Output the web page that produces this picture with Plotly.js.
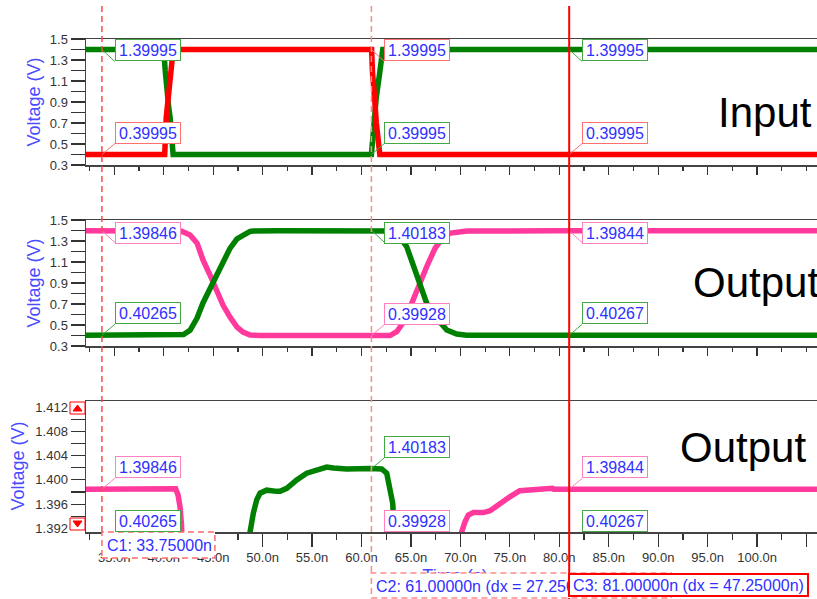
<!DOCTYPE html>
<html><head><meta charset="utf-8">
<script src="https://cdn.plot.ly/plotly-3.0.1.min.js"></script>
<style>html,body{margin:0;padding:0;background:#fff}#chart{width:817px;height:599px}</style>
</head><body><div id="chart"></div>
<script>
// ---------- DATA ----------
// Input signals (ns, V)
const inRedT   = [32.0, 40.10, 40.25, 40.45, 40.60, 40.75, 40.85, 40.95, 61.02, 61.10, 61.20, 61.35, 61.50, 61.70, 61.85, 106.5];
const inRedV   = [0.39995, 0.39995, 0.75, 0.90, 1.05, 1.20, 1.30, 1.39995, 1.39995, 1.20, 1.00, 0.90, 0.70, 0.50, 0.39995, 0.39995];
const inGreenT = [32.0, 40.00, 40.15, 40.30, 40.50, 40.65, 40.80, 40.95, 61.00, 61.20, 61.50, 61.80, 62.15, 106.5];
const inGreenV = [1.39995, 1.39995, 1.20, 1.00, 0.85, 0.75, 0.60, 0.39995, 0.39995, 0.70, 0.95, 1.15, 1.39995, 1.39995];
// Output signals (ns, V)
const outPinkT = [32.0, 40.5, 40.9, 41.2, 41.45, 41.65, 41.8, 42.0, 42.66, 43.37, 43.97, 44.68, 45.39, 45.99, 46.70, 47.41, 48.02, 48.73, 49.74, 62.88, 63.56, 64.40, 65.08, 65.74, 66.59, 67.43, 68.27, 69.0, 69.6, 70.13, 70.47, 70.8, 71.31, 72.32, 73.0, 74.0, 75.0, 76.0, 77.37, 78.73, 79.3, 79.45, 106.5];
const outPinkV = [1.39846, 1.39846, 1.39865, 1.39855, 1.3975, 1.3955, 1.3925, 1.385, 1.357, 1.28, 1.12, 0.976, 0.814, 0.69, 0.576, 0.48, 0.433, 0.405, 0.39928, 0.39928, 0.436, 0.548, 0.707, 0.865, 1.055, 1.23, 1.34, 1.375, 1.386, 1.3914, 1.3931, 1.3942, 1.3946, 1.3946, 1.3949, 1.3961, 1.3972, 1.3982, 1.39846, 1.3986, 1.3986, 1.39844, 1.39844];
const outGreenT = [32.0, 41.7, 42.0, 42.66, 43.37, 43.97, 44.68, 45.39, 45.99, 46.70, 47.41, 48.02, 48.5, 48.73, 49.06, 49.4, 49.74, 50.41, 51.43, 51.76, 52.44, 53.45, 54.46, 55.47, 56.48, 57.15, 58.5, 60.86, 62.04, 62.55, 62.88, 63.16, 63.29, 63.6, 64.0, 64.57, 65.24, 65.91, 66.59, 67.6, 68.62, 69.63, 70.64, 106.5];
const outGreenV = [0.40265, 0.40265, 0.41, 0.45, 0.566, 0.71, 0.85, 0.995, 1.12, 1.23, 1.32, 1.36, 1.38, 1.3914, 1.3945, 1.3967, 1.3978, 1.3983, 1.3981, 1.3981, 1.3986, 1.400, 1.4011, 1.4017, 1.4021, 1.40195, 1.4018, 1.40185, 1.4018, 1.4011, 1.3989, 1.3961, 1.3917, 1.365, 1.32, 1.246, 1.055, 0.865, 0.707, 0.564, 0.452, 0.414, 0.403, 0.40267];

// Cursors
const cursorNames = ['C1', 'C2', 'C3'];
const cursorT = [33.75, 61.0, 81.0];
const cursorDx = [null, 27.25, 47.25];
const inRedAtC = [0.39995, 1.39995, 0.39995];
const inGreenAtC = [1.39995, 0.39995, 1.39995];
const outPinkAtC = [1.39846, 0.39928, 1.39844];
const outGreenAtC = [0.40265, 1.40183, 0.40267];

// Panel labels and ticks
const panelNames = ['Input', 'Output', 'Output'];
const yTitle = 'Voltage (V)';
const xTitle = 'Time (s)';
const yTickVals = [0.3, 0.5, 0.7, 0.9, 1.1, 1.3, 1.5];
const yTickText = ['0.3', '0.5', '0.7', '0.9', '1.1', '1.3', '1.5'];
const y3TickVals = [1.392, 1.396, 1.400, 1.404, 1.408, 1.412];
const y3TickText = ['1.392', '1.396', '1.400', '1.404', '1.408', '1.412'];
const xTickVals = [35, 40, 45, 50, 55, 60, 65, 70, 75, 80, 85, 90, 95, 100, 105];
const xTickText = ['35.0n', '40.0n', '45.0n', '50.0n', '55.0n', '60.0n', '65.0n', '70.0n', '75.0n', '80.0n', '85.0n', '90.0n', '95.0n', '100.0n', ''];

// ---------- STYLE ----------
const W = 817, H = 599;
const px = x => x / W;
const py = y => 1 - y / H;
const FONT = 'Liberation Sans, Arial, sans-serif';
const RED = '#ff0000', GREEN = '#008000', PINK = '#ff3a9c';
const RED_L = '#ff7070', GREEN_L = '#44a844', PINK_L = '#ff80c0';
const BLUE = '#3030ff', BLUE_T = '#4a4aff';
const XR = [32.14, 106.06];

function line(x, y, xa, ya, color) {
  return {type: 'scatter', mode: 'lines', x: x, y: y, xaxis: xa, yaxis: ya,
          line: {color: color, width: 5.5}, hoverinfo: 'skip'};
}
const data = [
  line(inGreenT, inGreenV, 'x', 'y', GREEN),
  line(inRedT, inRedV, 'x', 'y', RED),
  line(outPinkT, outPinkV, 'x2', 'y2', PINK),
  line(outGreenT, outGreenV, 'x2', 'y2', GREEN),
  line(outPinkT, outPinkV, 'x3', 'y3', PINK),
  line(outGreenT, outGreenV, 'x3', 'y3', GREEN)
];

function xaxis(anchor, labels) {
  return {
    anchor: anchor, range: XR, domain: [px(86), 1], showline: true, mirror: true,
    linecolor: '#444', linewidth: 1.5, showgrid: false, zeroline: false,
    tickmode: 'array', tickvals: xTickVals, ticktext: xTickText,
    ticks: 'outside', ticklen: labels ? 13 : 8, tickwidth: 1.2, tickcolor: '#333',
    minor: {tickmode: 'linear', tick0: 0, dtick: 2.5, ticks: 'outside', ticklen: labels ? 6 : 4, tickwidth: 1.2, tickcolor: '#333'},
    showticklabels: labels, tickfont: {family: FONT, size: 13, color: '#333'}, fixedrange: true
  };
}
function yaxis(anchor, dom, range, tv, tt, t0, mdt) {
  return {
    anchor: anchor, domain: dom, range: range, showline: true, linecolor: '#444', linewidth: 1.5,
    showgrid: false, zeroline: false, tickmode: 'array', tickvals: tv, ticktext: tt,
    ticks: 'outside', ticklen: 14, tickwidth: 1.2, tickcolor: '#333',
    minor: {tickmode: 'linear', tick0: t0, dtick: mdt, ticks: 'outside', ticklen: 14, tickwidth: 1.2, tickcolor: '#333'},
    tickfont: {family: FONT, size: 13, color: '#333'}, fixedrange: true
  };
}

const shapes = [];
const annotations = [];

// y-axis titles and big panel labels
const panelCenters = [[33.5, 102], [33.5, 283], [17, 466.5]];
const bigLabelPos = [[716, 112.5], [691, 282.5], [678, 447.5]];
for (let p = 0; p < 3; p++) {
  annotations.push({xref: 'paper', yref: 'paper', x: px(panelCenters[p][0]), y: py(panelCenters[p][1]), text: yTitle,
    textangle: -90, showarrow: false, xanchor: 'center', yanchor: 'middle',
    font: {family: FONT, size: 18, color: BLUE_T}});
  annotations.push({xref: 'paper', yref: 'paper', x: px(bigLabelPos[p][0]), y: py(bigLabelPos[p][1]),
    text: panelNames[p], showarrow: false, xanchor: 'left', yanchor: 'middle',
    font: {family: FONT, size: 42, color: '#000'}});
}

// value labels
function label(xr, x, yref, y, yanchor, yshift, text, border) {
  annotations.push({xref: xr, x: x, xanchor: 'left', xshift: 13, yref: yref, y: y, yanchor: yanchor,
    yshift: yshift, text: text, showarrow: false, bgcolor: '#ffffff', bordercolor: border,
    borderwidth: 1, borderpad: 1, width: 62, height: 18, align: 'center',
    font: {family: FONT, size: 16, color: BLUE}});
}
function leader(xr, yr, x, y, dy, color) {
  shapes.push({type: 'line', xref: xr, yref: yr, xsizemode: 'pixel', ysizemode: 'pixel',
    xanchor: x, yanchor: y, x0: 0, y0: 0, x1: 13, y1: dy, line: {color: color, width: 1}});
}
const panelSeries = [
  [[inRedAtC, RED_L], [inGreenAtC, GREEN_L]],
  [[outPinkAtC, PINK_L], [outGreenAtC, GREEN_L]],
  [[outPinkAtC, PINK_L], [outGreenAtC, GREEN_L]]
];
const panelTopPx = [39, 222];
for (let p = 0; p < 3; p++) {
  const xr = p === 0 ? 'x' : 'x' + (p + 1);
  const yr = p === 0 ? 'y' : 'y' + (p + 1);
  for (let i = 0; i < 3; i++) {
    const s = panelSeries[p].map(d => ({v: d[0][i], c: d[1]})).sort((a, b) => b.v - a.v);
    const hi = s[0], lo = s[1];
    const t = cursorT[i];
    if (p < 2) {
      label(xr, t, 'paper', py(panelTopPx[p]), 'top', 0, hi.v.toFixed(5), hi.c);
      leader(xr, yr, t, hi.v, -12, hi.c);
      label(xr, t, yr, lo.v, 'bottom', 11, lo.v.toFixed(5), lo.c);
      leader(xr, yr, t, lo.v, 11, lo.c);
    } else {
      label(xr, t, yr, hi.v, 'bottom', 11, hi.v.toFixed(5), hi.c);
      leader(xr, yr, t, hi.v, 11, hi.c);
      label(xr, t, 'paper', py(531.5), 'bottom', 0, lo.v.toFixed(5), lo.c);
    }
  }
}

// "Time (s)" title as shape label (so the cursor box can cover it)
shapes.push({type: 'rect', xref: 'paper', yref: 'paper', x0: px(415), x1: px(495), y0: py(584), y1: py(564),
  line: {width: 0}, fillcolor: 'rgba(0,0,0,0)',
  label: {text: xTitle, textposition: 'middle center', font: {family: FONT, size: 18, color: BLUE_T}}});

// cursor lines
const cursorLine = [
  {color: '#ff4a4a', width: 1.5, dash: '6px,4px', bottom: 532},
  {color: '#ff8a8a', width: 1.5, dash: '6px,4px', bottom: 573},
  {color: '#ff0000', width: 2, dash: 'solid', bottom: 599}
];
for (let i = 0; i < 3; i++) {
  shapes.push({type: 'line', xref: 'x3', yref: 'paper', x0: cursorT[i], x1: cursorT[i],
    y0: py(6), y1: py(cursorLine[i].bottom),
    line: {color: cursorLine[i].color, width: cursorLine[i].width, dash: cursorLine[i].dash}});
}
// cursor boxes C1, C2 (dashed)
shapes.push({type: 'rect', xref: 'x3', yref: 'paper', xsizemode: 'pixel', xanchor: cursorT[0], x0: 0, x1: 113,
  y0: py(558), y1: py(532), fillcolor: '#ffffff', line: {color: '#ff6a6a', width: 1.5, dash: '6px,4px'}});
shapes.push({type: 'rect', xref: 'x3', yref: 'paper', xsizemode: 'pixel', xanchor: cursorT[1], x0: 0, x1: 300,
  y0: py(598), y1: py(573), fillcolor: '#ffffff', line: {color: '#ff8a8a', width: 1.5, dash: '6px,4px'}});

function ctext(i) {
  let s = cursorNames[i] + ': ' + cursorT[i].toFixed(5) + 'n';
  if (cursorDx[i] !== null) s += ' (dx = ' + cursorDx[i].toFixed(5) + 'n)';
  return s;
}
annotations.push({xref: 'x3', x: cursorT[0], xshift: 3, xanchor: 'left', yref: 'paper', y: py(545), yanchor: 'middle',
  text: ctext(0), showarrow: false, font: {family: FONT, size: 16, color: BLUE}});
annotations.push({xref: 'x3', x: cursorT[1], xshift: 3, xanchor: 'left', yref: 'paper', y: py(586), yanchor: 'middle',
  text: ctext(1), showarrow: false, font: {family: FONT, size: 16, color: BLUE}});
annotations.push({xref: 'x3', x: cursorT[2], xshift: -1, xanchor: 'left', yref: 'paper', y: py(573), yanchor: 'top',
  text: ctext(2), showarrow: false, bgcolor: '#ffffff', bordercolor: '#ff0000', borderwidth: 2, borderpad: 1,
  width: 235, height: 18, font: {family: FONT, size: 16, color: BLUE}});

// scroll buttons on panel 3 y-axis
function button(top, up) {
  shapes.push({type: 'rect', xref: 'paper', yref: 'paper', x0: px(70), x1: px(85), y0: py(top + 12), y1: py(top),
    fillcolor: '#ffffff', line: {color: '#ff0000', width: 1}});
  const a = up ? [top + 9, top + 3] : [top + 3, top + 9];
  shapes.push({type: 'path', xref: 'paper', yref: 'paper',
    path: 'M' + px(73) + ',' + py(a[0]) + ' L' + px(82) + ',' + py(a[0]) + ' L' + px(77.5) + ',' + py(a[1]) + ' Z',
    fillcolor: '#ff0000', line: {color: '#ff0000', width: 1}});
}
button(402, true);
button(518, false);

const layout = {
  width: W, height: H, margin: {l: 0, r: 0, t: 0, b: 0},
  paper_bgcolor: '#ffffff', plot_bgcolor: '#ffffff', showlegend: false,
  font: {family: FONT, size: 13, color: '#333'},
  xaxis: xaxis('y', false), xaxis2: xaxis('y2', false), xaxis3: xaxis('y3', true),
  yaxis: yaxis('x', [py(165), py(39)], [0.3, 1.5], yTickVals, yTickText, 0.3, 0.1),
  yaxis2: yaxis('x2', [py(346), py(220)], [0.3, 1.5], yTickVals, yTickText, 0.3, 0.1),
  yaxis3: yaxis('x3', [py(532), py(401)], [1.3914, 1.4130], y3TickVals, y3TickText, 1.392, 0.002),
  shapes: shapes, annotations: annotations
};
Plotly.newPlot('chart', data, layout, {staticPlot: true, displayModeBar: false});
</script>
</body></html>
